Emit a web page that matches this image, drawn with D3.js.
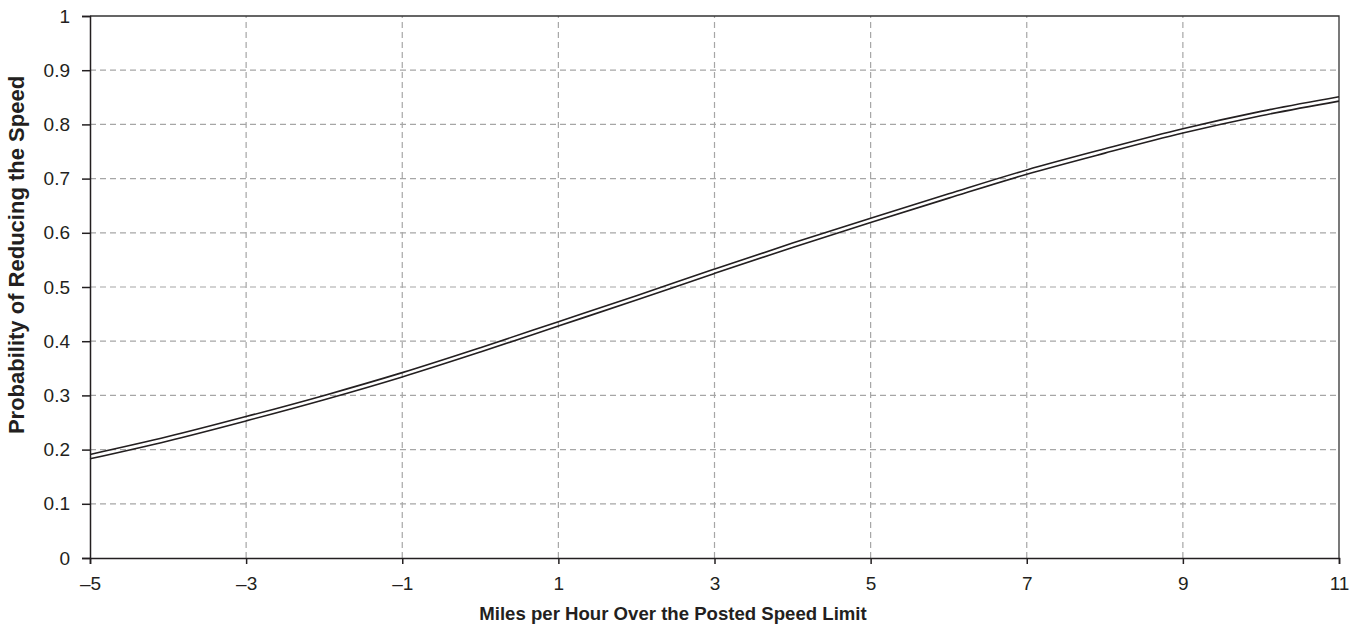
<!DOCTYPE html>
<html>
<head>
<meta charset="utf-8">
<script src="https://cdn.jsdelivr.net/npm/d3@7"></script>
<style>
  body { margin: 0; background: #fff; }
  svg text { font-family: "Liberation Sans", Arial, sans-serif; fill: #231f20; }
</style>
</head>
<body>
<svg id="chart" width="1366" height="629"></svg>
<script>
// values
var speedOver = [-5, -4, -3, -2, -1, 0, 1, 2, 3, 4, 5, 6, 7, 8, 9, 10, 11]
var upperProb = [0.191, 0.224, 0.261, 0.300, 0.342, 0.388, 0.436, 0.484, 0.533, 0.581, 0.627, 0.672, 0.716, 0.755, 0.792, 0.824, 0.851]
var lowerProb = [0.183, 0.216, 0.253, 0.292, 0.334, 0.380, 0.428, 0.476, 0.525, 0.573, 0.619, 0.664, 0.708, 0.747, 0.784, 0.816, 0.843]
var xTicks = [-5, -3, -1, 1, 3, 5, 7, 9, 11]
var xGrid = [-3, -1, 1, 3, 5, 7, 9]
var yTicks = [0, 0.1, 0.2, 0.3, 0.4, 0.5, 0.6, 0.7, 0.8, 0.9, 1]

var margin = { left: 90, right: 27, top: 16, bottom: 71 }
var width = 1366, height = 629

const svg = d3.select('#chart')

var x = d3.scaleLinear().domain([-5, 11]).range([margin.left, width - margin.right])
var y = d3.scaleLinear().domain([0, 1]).range([height - margin.bottom, margin.top])

// grid
svg.append('g')
    .selectAll('line')
    .data(yTicks.slice(1, -1))
    .enter()
    .append('line')
    .attr('x1', x(-5)).attr('x2', x(11))
    .attr('y1', d => y(d)).attr('y2', d => y(d))
    .attr('stroke', '#a6a6a6')
    .attr('stroke-width', 1.2)
    .attr('stroke-dasharray', '6,4')

svg.append('g')
    .selectAll('line')
    .data(xGrid)
    .enter()
    .append('line')
    .attr('x1', d => x(d)).attr('x2', d => x(d))
    .attr('y1', y(0)).attr('y2', y(1))
    .attr('stroke', '#a6a6a6')
    .attr('stroke-width', 1.2)
    .attr('stroke-dasharray', '6,4')

// frame top/right
svg.append('path')
    .attr('d', 'M' + x(-5) + ',' + y(1) + 'H' + x(11) + 'V' + y(0))
    .attr('fill', 'none')
    .attr('stroke', '#333')
    .attr('stroke-width', 1.3)

// axes
var fmtX = d => d < 0 ? '\u2013' + Math.abs(d) : String(d)

const xAxis = svg.append('g')
    .attr('transform', 'translate(0,' + y(0) + ')')
    .call(d3.axisBottom(x).tickValues(xTicks).tickFormat(fmtX).tickSize(6).tickPadding(13))
xAxis.select('.domain').attr('stroke', '#231f20').attr('stroke-width', 1.5)
xAxis.selectAll('.tick line').attr('stroke', '#231f20').attr('stroke-width', 1.5)
xAxis.selectAll('text').attr('font-size', 19).attr('fill', '#231f20')

const yAxis = svg.append('g')
    .attr('transform', 'translate(' + x(-5) + ',0)')
    .call(d3.axisLeft(y).tickValues(yTicks).tickFormat(d => d === 0 || d === 1 ? String(d) : d3.format('.1f')(d)).tickSize(8).tickPadding(12))
yAxis.select('.domain').attr('stroke', '#231f20').attr('stroke-width', 1.5)
yAxis.selectAll('.tick line').attr('stroke', '#231f20').attr('stroke-width', 1.5)
yAxis.selectAll('text').attr('font-size', 19).attr('fill', '#231f20')

// curves
var line = d3.line()
    .x((d, i) => x(speedOver[i]))
    .y(d => y(d))
    .curve(d3.curveMonotoneX)

;[upperProb, lowerProb].forEach(series => {
    svg.append('path')
        .datum(series)
        .attr('d', line)
        .attr('fill', 'none')
        .attr('stroke', '#231f20')
        .attr('stroke-width', 1.6)
})

// titles
svg.append('text')
    .attr('x', 673)
    .attr('y', 620)
    .attr('text-anchor', 'middle')
    .attr('font-size', 18.6)
    .attr('font-weight', 'bold')
    .text('Miles per Hour Over the Posted Speed Limit')

svg.append('text')
    .attr('transform', 'translate(24,255) rotate(-90)')
    .attr('text-anchor', 'middle')
    .attr('font-size', 22)
    .attr('font-weight', 'bold')
    .text('Probability of Reducing the Speed')
</script>
</body>
</html>
